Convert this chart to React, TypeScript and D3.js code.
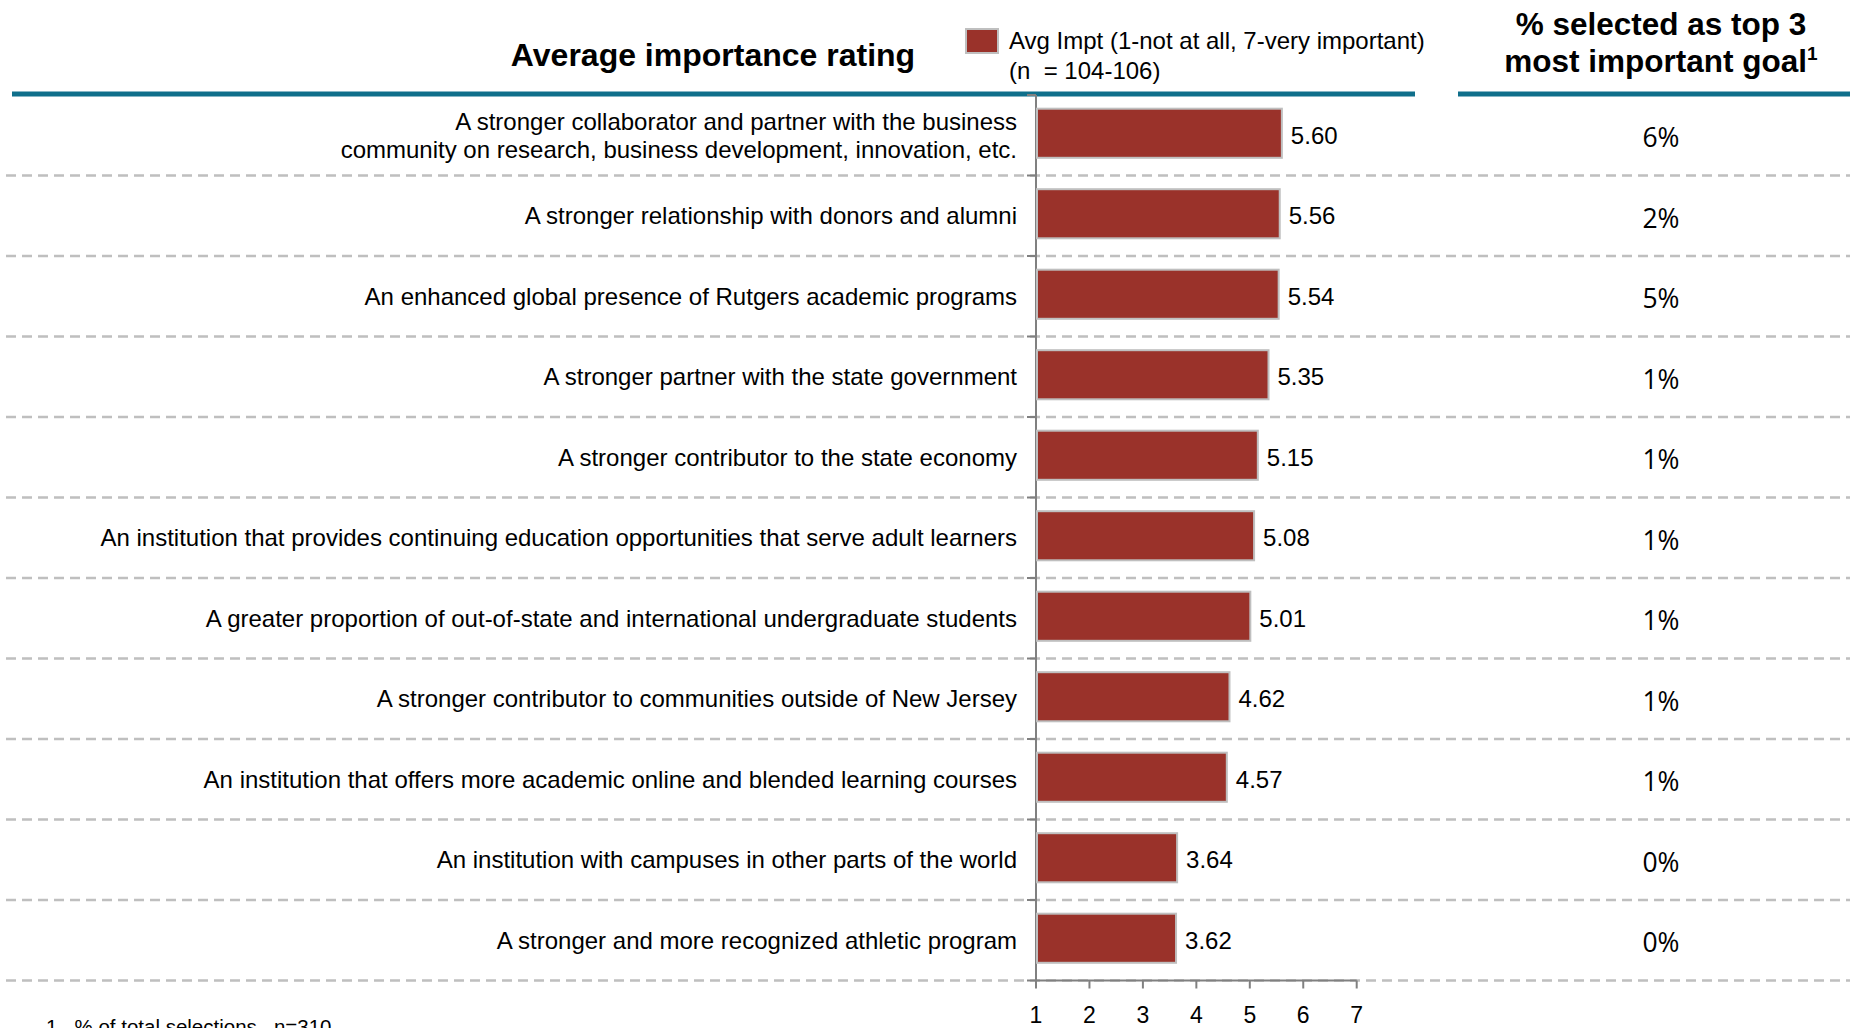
import React from 'react';
import * as d3 from 'd3';

const goals = [
  'A stronger collaborator and partner with the business\ncommunity on research, business development, innovation, etc.',
  'A stronger relationship with donors and alumni',
  'An enhanced global presence of Rutgers academic programs',
  'A stronger partner with the state government',
  'A stronger contributor to the state economy',
  'An institution that provides continuing education opportunities that serve adult learners',
  'A greater proportion of out-of-state and international undergraduate students',
  'A stronger contributor to communities outside of New Jersey',
  'An institution that offers more academic online and blended learning courses',
  'An institution with campuses in other parts of the world',
  'A stronger and more recognized athletic program',
];
const avgImportance = [5.6, 5.56, 5.54, 5.35, 5.15, 5.08, 5.01, 4.62, 4.57, 3.64, 3.62];
const topThreeShare = [6, 2, 5, 1, 1, 1, 1, 1, 1, 0, 0];
const xTicks = [1, 2, 3, 4, 5, 6, 7];

const legendLines = ['Avg Impt (1-not at all, 7-very important)', '(n  = 104-106)'];

const W = 1850;
const H = 1028;
const teal = '#0f6f8b';
const barRed = '#9a322a';
const grey = '#bfbfbf';
const sans = '"Liberation Sans", Arial, sans-serif';

const useD3 = (renderFn: Function, deps: Array<unknown>) => {
  const ref = React.useRef<SVGSVGElement>(null);
  React.useEffect(() => {
    renderFn(d3.select(ref.current));
  }, deps); // eslint-disable-line
  return ref;
};

function App() {
  const ref = useD3(
    // @ts-ignore
    (svg) => {
      svg.selectAll('*').remove();

      const x = d3.scaleLinear().domain([1, 7]).range([1036, 1356.7]);
      const y = d3
        .scaleBand()
        .domain(goals.map((_, i) => String(i)))
        .range([95, 980.5])
        .paddingInner(0.39)
        .paddingOuter(0.195);
      const step = y.step();
      const bandTop = (i: number) => (y(String(i)) as number) - y.paddingInner() * step / 2;
      // text sits a little below the bar centre in the original
      const textY = (i: number) => (y(String(i)) as number) + y.bandwidth() / 2 + 2;

      // headers
      svg.append('text')
        .attr('x', 713).attr('y', 58)
        .attr('text-anchor', 'middle').attr('dominant-baseline', 'middle')
        .attr('font-family', sans).attr('font-weight', 'bold').attr('font-size', 32)
        .text('Average importance rating');

      svg.append('rect')
        .attr('x', 966).attr('y', 29).attr('width', 32).attr('height', 24)
        .attr('fill', barRed).attr('stroke', grey).attr('stroke-width', 2);
      legendLines.forEach((l, i) => {
        svg.append('text')
          .attr('x', 1009).attr('y', 43 + i * 30)
          .attr('dominant-baseline', 'middle')
          .attr('font-family', sans).attr('font-size', 24)
          .style('white-space', 'pre')
          .text(l);
      });

      const rh = svg.append('text')
        .attr('text-anchor', 'middle')
        .attr('font-family', sans).attr('font-weight', 'bold').attr('font-size', 31.5);
      rh.append('tspan').attr('x', 1661).attr('y', 35).text('% selected as top 3');
      const l2 = rh.append('tspan').attr('x', 1661).attr('y', 72).text('most important goal');
      l2.append('tspan').attr('font-size', 19).attr('dy', -12).text('1');

      svg.append('line')
        .attr('x1', 12).attr('x2', 1415).attr('y1', 94).attr('y2', 94)
        .attr('stroke', teal).attr('stroke-width', 5);
      svg.append('line')
        .attr('x1', 1458).attr('x2', W).attr('y1', 94).attr('y2', 94)
        .attr('stroke', teal).attr('stroke-width', 5);

      // dashed row separators
      svg.append('g')
        .selectAll('line')
        .data(goals)
        .join('line')
        .attr('x1', 6).attr('x2', W)
        .attr('y1', (_: string, i: number) => bandTop(i) + step)
        .attr('y2', (_: string, i: number) => bandTop(i) + step)
        .attr('stroke', grey).attr('stroke-width', 2.5)
        .attr('stroke-dasharray', '10 6');

      // left axis with band ticks
      const ax = svg.append('g').attr('stroke', '#808080').attr('stroke-width', 2);
      ax.append('line')
        .attr('x1', x(1)).attr('x2', x(1)).attr('y1', 95).attr('y2', 980.5);
      ax.selectAll('.bt')
        .data(d3.range(goals.length + 1))
        .join('line')
        .attr('class', 'bt')
        .attr('x1', x(1) - 9).attr('x2', x(1))
        .attr('y1', (i: number) => 95 + i * step)
        .attr('y2', (i: number) => 95 + i * step);

      // bars
      svg.append('g')
        .selectAll('rect')
        .data(avgImportance)
        .join('rect')
        .attr('x', x(1) + 1)
        .attr('y', (_: number, i: number) => (y(String(i)) as number) - 2)
        .attr('width', (d: number) => x(d) - x(1) - 1)
        .attr('height', y.bandwidth())
        .attr('fill', barRed)
        .attr('stroke', grey)
        .attr('stroke-width', 2);

      svg.append('g')
        .selectAll('text')
        .data(avgImportance)
        .join('text')
        .attr('x', (d: number) => x(d) + 9)
        .attr('y', (_: number, i: number) => textY(i))
        .attr('dominant-baseline', 'middle')
        .attr('font-family', sans).attr('font-size', 24)
        .text((d: number) => d3.format('.2f')(d));

      // category labels
      goals.forEach((g, i) => {
        const lines = g.split('\n');
        lines.forEach((l, j) => {
          svg.append('text')
            .attr('x', 1017)
            .attr('y', textY(i) + (j - (lines.length - 1) / 2) * 28)
            .attr('text-anchor', 'end')
            .attr('dominant-baseline', 'middle')
            .attr('font-family', sans).attr('font-size', 24)
            .text(l);
        });
      });

      // share column
      svg.append('g')
        .selectAll('text')
        .data(topThreeShare)
        .join('text')
        .attr('x', 1661)
        .attr('y', (_: number, i: number) => textY(i) + 3)
        .attr('text-anchor', 'middle')
        .attr('dominant-baseline', 'middle')
        .attr('font-family', '"Open Sans", sans-serif').attr('font-size', 26.5)
        .text((d: number) => `${d}%`);

      // bottom axis
      const bottom = svg.append('g').attr('transform', 'translate(0,980.5)');
      bottom.append('line')
        .attr('x1', x(1)).attr('x2', x(7))
        .attr('stroke', '#808080').attr('stroke-width', 2);
      bottom.selectAll('.tk')
        .data(xTicks)
        .join('line')
        .attr('class', 'tk')
        .attr('x1', (d: number) => x(d)).attr('x2', (d: number) => x(d))
        .attr('y1', 0).attr('y2', 8)
        .attr('stroke', '#808080').attr('stroke-width', 2);
      bottom.selectAll('.tl')
        .data(xTicks)
        .join('text')
        .attr('class', 'tl')
        .attr('x', (d: number) => x(d))
        .attr('y', 36.5)
        .attr('text-anchor', 'middle')
        .attr('dominant-baseline', 'middle')
        .attr('font-family', sans).attr('font-size', 23)
        .text((d: number) => d);

      svg.append('text')
        .attr('x', 46).attr('y', 1034)
        .attr('font-family', sans).attr('font-size', 20.5)
        .style('white-space', 'pre')
        .text('1.  % of total selections,  n=310');
    },
    []
  );

  return (
    <div style={{ position: 'absolute', left: 0, top: 0, width: W, height: H, overflow: 'hidden', background: '#fff' }}>
      <svg ref={ref} width={W} height={H} />
    </div>
  );
}

export default App;
